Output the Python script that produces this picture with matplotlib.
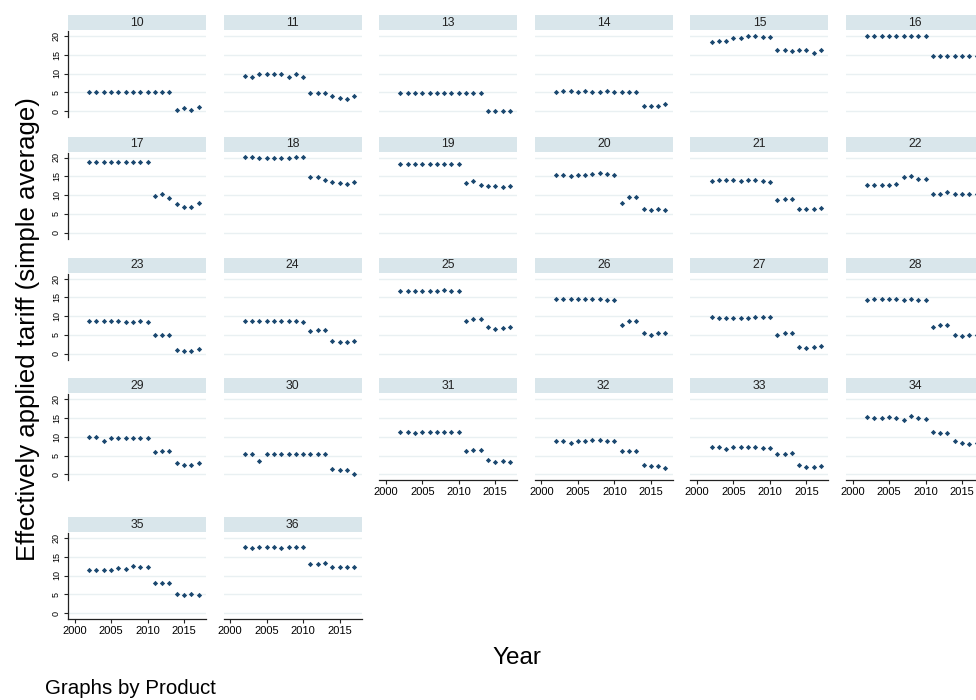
import matplotlib.pyplot as plt

plt.rcParams['font.family'] = ['Liberation Sans', 'DejaVu Sans']

years = list(range(2002, 2018))
products = [10, 11, 13, 14, 15, 16, 17, 18, 19, 20, 21, 22, 23,
            24, 25, 26, 27, 28, 29, 30, 31, 32, 33, 34, 35, 36]

t10 = [5.0, 5.0, 5.0, 5.0, 5.0, 5.0, 5.0, 5.0, 5.0, 5.0, 5.0, 5.0, 0.3, 0.9, 0.2, 1.15]
t11 = [9.4, 9.0, 9.8, 9.8, 9.8, 9.8, 9.0, 9.9, 9.0, 4.9, 4.9, 4.9, 3.9, 3.6, 3.2, 3.9]
t13 = [4.9, 4.9, 4.9, 4.9, 4.9, 4.9, 4.9, 4.9, 4.9, 4.9, 4.9, 4.9, 0.0, 0.0, 0.0, 0.0]
t14 = [5.0, 5.3, 5.3, 5.0, 5.3, 5.0, 5.0, 5.3, 5.0, 5.0, 5.0, 5.0, 1.25, 1.25, 1.25, 1.8]
t15 = [18.3, 18.7, 18.8, 19.5, 19.4, 19.9, 19.9, 19.7, 19.7, 16.3, 16.3, 16.0, 16.3, 16.3, 15.4, 16.3]
t16 = [19.9, 19.9, 19.9, 19.9, 19.9, 19.9, 19.9, 19.9, 19.9, 14.8, 14.8, 14.8, 14.8, 14.8, 14.8, 14.8]
t17 = [18.8, 18.8, 18.8, 18.8, 18.8, 18.8, 18.8, 18.8, 18.8, 9.8, 10.2, 9.2, 7.5, 6.8, 6.8, 8.0]
t18 = [20.1, 20.1, 19.9, 19.9, 19.9, 19.9, 19.9, 20.1, 20.1, 14.9, 14.9, 14.1, 13.4, 13.2, 12.9, 13.4]
t19 = [18.2, 18.4, 18.4, 18.4, 18.4, 18.4, 18.4, 18.4, 18.4, 13.2, 13.7, 12.8, 12.3, 12.3, 12.1, 12.3]
t20 = [15.4, 15.4, 15.2, 15.4, 15.4, 15.5, 15.8, 15.6, 15.4, 7.9, 9.4, 9.4, 6.2, 5.9, 6.2, 5.9]
t21 = [13.7, 13.9, 13.9, 13.9, 13.7, 13.9, 13.9, 13.7, 13.4, 8.75, 9.0, 9.0, 6.3, 6.3, 6.3, 6.6]
t22 = [12.8, 12.8, 12.8, 12.8, 12.9, 14.8, 15.0, 14.4, 14.4, 10.4, 10.4, 10.8, 10.2, 10.2, 10.4, 10.2]
t23 = [8.75, 8.75, 8.75, 8.6, 8.6, 8.4, 8.4, 8.6, 8.4, 5.1, 5.1, 5.1, 0.9, 0.6, 0.6, 1.25]
t24 = [8.6, 8.6, 8.6, 8.6, 8.6, 8.6, 8.6, 8.6, 8.4, 6.0, 6.4, 6.4, 3.4, 3.2, 3.2, 3.4]
t25 = [16.7, 16.7, 16.7, 16.7, 16.7, 16.7, 16.9, 16.7, 16.7, 8.75, 9.2, 9.2, 7.0, 6.6, 6.8, 7.2]
t26 = [14.6, 14.6, 14.6, 14.6, 14.6, 14.7, 14.6, 14.3, 14.3, 7.7, 8.6, 8.6, 5.5, 5.1, 5.4, 5.5]
t27 = [9.8, 9.6, 9.6, 9.6, 9.6, 9.6, 9.8, 9.8, 9.8, 5.1, 5.4, 5.6, 1.8, 1.6, 1.8, 2.05]
t28 = [14.3, 14.6, 14.6, 14.6, 14.6, 14.3, 14.6, 14.3, 14.3, 7.05, 7.7, 7.7, 5.1, 4.6, 4.9, 5.1]
t29 = [10.0, 10.0, 8.75, 9.8, 9.8, 9.8, 9.8, 9.8, 9.8, 6.0, 6.2, 6.2, 2.9, 2.5, 2.5, 2.9]
t30 = [5.3, 5.3, 3.6, 5.3, 5.3, 5.5, 5.5, 5.5, 5.5, 5.3, 5.3, 5.3, 1.4, 1.25, 1.25, 0.2]
t31 = [11.25, 11.25, 10.9, 11.25, 11.25, 11.25, 11.25, 11.25, 11.25, 6.2, 6.6, 6.6, 3.75, 3.4, 3.6, 3.4]
t32 = [8.75, 8.9, 8.3, 8.9, 8.9, 9.2, 9.2, 8.9, 8.9, 6.2, 6.3, 6.3, 2.5, 2.2, 2.2, 1.8]
t33 = [7.4, 7.2, 6.7, 7.2, 7.2, 7.2, 7.2, 7.0, 7.0, 5.5, 5.5, 5.8, 2.5, 2.05, 2.05, 2.2]
t34 = [15.2, 15.0, 15.0, 15.4, 15.0, 14.6, 15.6, 15.0, 14.8, 11.25, 11.1, 11.1, 8.75, 8.3, 8.1, 8.3]
t35 = [11.4, 11.6, 11.6, 11.4, 12.0, 11.8, 12.5, 12.2, 12.4, 8.1, 7.9, 7.9, 5.0, 4.9, 5.0, 4.8]
t36 = [17.5, 17.3, 17.5, 17.5, 17.5, 17.3, 17.5, 17.5, 17.5, 13.0, 13.0, 13.3, 12.3, 12.2, 12.2, 12.2]

series = [t10, t11, t13, t14, t15, t16, t17, t18, t19, t20, t21, t22, t23,
          t24, t25, t26, t27, t28, t29, t30, t31, t32, t33, t34, t35, t36]

W, H = 976, 700
navy = '#1a476f'
strip_col = '#d9e6eb'
grid_col = '#e9f0f2'

fig = plt.figure(figsize=(W / 100, H / 100), dpi=100)
fig.patch.set_facecolor('white')

col_left = [68 + 155.6 * c for c in range(6)]
row_y20 = [36, 157.5, 278.7, 399.3, 538]
ppu = 3.75
ymin, ymax = -1.6, 21.3
pw = 138

for i, (prod, vals) in enumerate(zip(products, series)):
    r, c = divmod(i, 6)
    x0 = col_left[c]
    top = row_y20[r] - (ymax - 20) * ppu
    bot = row_y20[r] + (0 - ymin) * ppu + 75
    ax = fig.add_axes([x0 / W, 1 - bot / H, pw / W, (bot - top) / H])
    ax.plot(years, vals, linestyle='none', marker='D', markersize=2.7,
            color=navy, markeredgewidth=0)
    ax.set_xlim(1999.1, 2018.0)
    ax.set_ylim(ymin, ymax)
    ax.set_yticks([0, 5, 10, 15, 20])
    ax.set_xticks([2000, 2005, 2010, 2015])
    ax.grid(axis='y', color=grid_col, linewidth=1)
    ax.set_axisbelow(True)
    for s in ax.spines.values():
        s.set_visible(False)

    # y axis only on the first column
    if c == 0:
        ax.spines['left'].set_visible(True)
        ax.spines['left'].set_color('#222222')
        ax.spines['left'].set_linewidth(0.9)
        ax.tick_params(axis='y', length=3, width=0.8, labelsize=6.5, pad=2,
                       labelrotation=90, color='#222222')
        for lab in ax.get_yticklabels():
            lab.set_va('center')
    else:
        ax.tick_params(axis='y', length=0, labelleft=False)

    # x axis only on the last panel of each column
    below = i + 6
    if below >= len(products):
        ax.spines['bottom'].set_visible(True)
        ax.spines['bottom'].set_color('#222222')
        ax.spines['bottom'].set_linewidth(0.9)
        ax.tick_params(axis='x', length=3, width=0.8, labelsize=8, pad=2,
                       color='#222222')
    else:
        ax.tick_params(axis='x', length=0, labelbottom=False)

    # strip with product label
    st_top = row_y20[r] - 21
    st = fig.add_axes([x0 / W, 1 - (st_top + 15) / H, pw / W, 15 / H])
    st.set_facecolor(strip_col)
    st.set_xticks([])
    st.set_yticks([])
    for s in st.spines.values():
        s.set_visible(False)
    st.text(0.5, 0.5, str(prod), ha='center', va='center', fontsize=8.8,
            color='#222222', transform=st.transAxes)

fig.text(28 / W, 1 - 329 / H, 'Effectively applied tariff (simple average)',
         rotation=90, ha='center', va='center', fontsize=18.5)
fig.text(517 / W, 1 - 658 / H, 'Year', ha='center', va='center', fontsize=17.5)
fig.text(45 / W, 1 - 688 / H, 'Graphs by Product', ha='left', va='center',
         fontsize=14.8)

fig.savefig('out.png', dpi=100)
